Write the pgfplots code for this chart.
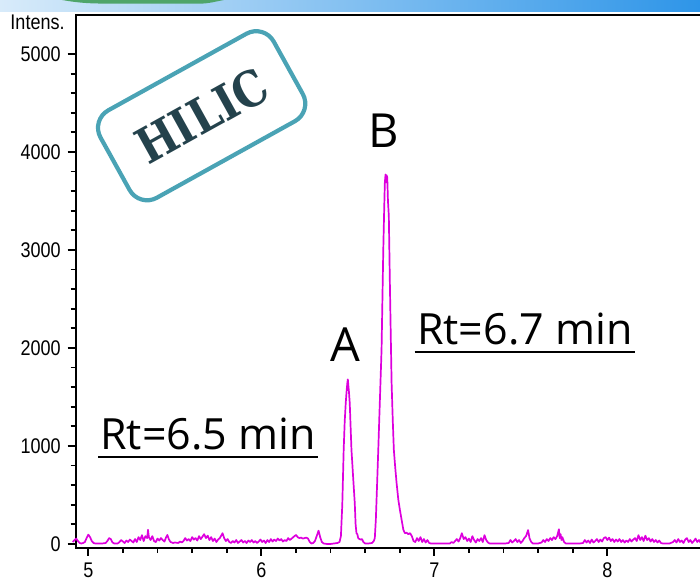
\documentclass[border=0pt]{standalone}
\usepackage{fontspec}
\usepackage{pgfplots}
\pgfplotsset{compat=1.18}
\setmainfont{Open Sans}
\newfontfamily\tickfont[FakeStretch=0.85]{Liberation Sans}
\newfontfamily\hilicfont[FakeStretch=0.86]{DejaVu Serif}
\definecolor{trace}{HTML}{DD00DD}
\definecolor{hilicTeal}{HTML}{4AA3B5}
\definecolor{hilicDark}{HTML}{24424C}
\definecolor{stripL}{HTML}{D8EBFA}
\definecolor{stripR}{HTML}{2E95E8}
\definecolor{stripG}{HTML}{4FA56A}

\begin{document}
\begin{tikzpicture}
% slide header strip
\fill[left color=stripL, right color=stripR] (0pt,285.2pt) rectangle (350pt,291pt);
\fill[stripG] (31pt,291pt) to[out=-10,in=180] (55pt,289.2pt) -- (100pt,289.2pt) to[out=0,in=-170] (112pt,291pt) -- cycle;

\begin{axis}[
    at={(37.85pt,17.15pt)}, anchor=south west,
    scale only axis,
    width=319.65pt, height=266.2pt,
    xmin=4.927, xmax=8.6225,
    ymin=-38, ymax=5395,
    xtick={5,6,7,8}, minor x tick num=4,
    ytick={0,1000,2000,3000,4000,5000}, minor y tick num=4,
    xtick pos=left, ytick pos=left,
    tick align=outside,
    major tick length=4pt, minor tick length=2.5pt,
    every tick/.style={black, line width=0.9pt},
    axis line style={line width=1pt},
    scaled y ticks=false,
    /pgf/number format/1000 sep={},
    /pgf/number format/assume math mode=true,
    tick label style={font=\tickfont\fontsize{10.6}{12}\selectfont},
    clip=false,
]
\addplot[trace, line width=0.85pt, line join=round] coordinates {
(4.910,20) (4.920,40) (4.930,55) (4.940,30) (4.950,10) (4.960,5) (4.970,10) (4.980,20) (4.990,60)
(5.000,95) (5.010,70) (5.020,30) (5.030,10) (5.040,5) (5.060,5) (5.080,5) (5.100,10) (5.110,30)
(5.120,60) (5.130,50) (5.140,15) (5.150,5) (5.170,5) (5.180,20) (5.190,40) (5.200,25) (5.210,10)
(5.220,35) (5.230,20) (5.240,45) (5.250,30) (5.260,15) (5.270,50) (5.280,20) (5.290,70) (5.300,40)
(5.310,90) (5.320,30) (5.330,80) (5.340,60) (5.345,144) (5.350,70) (5.360,40) (5.370,80) (5.380,30)
(5.390,20) (5.400,55) (5.410,35) (5.420,60) (5.430,40) (5.440,25) (5.450,70) (5.457,92) (5.465,50)
(5.475,20) (5.490,10) (5.500,15) (5.520,10) (5.530,25) (5.540,15) (5.550,30) (5.560,60) (5.570,35)
(5.580,50) (5.590,30) (5.600,70) (5.610,45) (5.620,60) (5.630,35) (5.640,80) (5.650,50) (5.660,75)
(5.669,100) (5.680,60) (5.690,85) (5.700,40) (5.710,70) (5.720,30) (5.730,55) (5.740,20) (5.750,45)
(5.760,60) (5.776,110) (5.785,60) (5.795,30) (5.805,50) (5.815,20) (5.825,10) (5.835,30) (5.845,15)
(5.855,40) (5.865,10) (5.875,25) (5.885,40) (5.895,15) (5.905,30) (5.915,10) (5.925,35) (5.935,20)
(5.945,40) (5.955,15) (5.965,30) (5.975,10) (5.985,25) (5.995,45) (6.005,20) (6.015,35) (6.025,10)
(6.035,40) (6.045,20) (6.055,50) (6.065,25) (6.075,45) (6.085,30) (6.095,55) (6.105,35) (6.115,50)
(6.125,25) (6.135,40) (6.145,30) (6.155,60) (6.165,40) (6.175,55) (6.185,70) (6.195,85) (6.201,92)
(6.210,70) (6.220,60) (6.230,65) (6.240,55) (6.250,60) (6.260,65) (6.270,55) (6.280,20) (6.290,5)
(6.300,10) (6.310,30) (6.320,80) (6.331,136) (6.340,70) (6.350,20) (6.360,5) (6.380,0) (6.400,0)
(6.420,5) (6.440,10) (6.452,20)
(6.460,80) (6.468,400) (6.476,960) (6.482,1250) (6.488,1440) (6.493,1560) (6.497,1640) (6.500,1680)
(6.503,1620) (6.507,1540) (6.511,1440) (6.516,1200) (6.521,960) (6.526,820) (6.530,700) (6.535,560)
(6.540,420) (6.545,200) (6.550,110) (6.555,100) (6.560,60) (6.567,50) (6.575,45) (6.582,50) (6.590,20)
(6.600,5) (6.620,5) (6.640,10) (6.650,30)
(6.656,60) (6.662,250) (6.668,550) (6.676,960) (6.685,1450) (6.695,1984) (6.700,2500) (6.705,3006)
(6.710,3400) (6.714,3688) (6.718,3770) (6.721,3690) (6.724,3763) (6.728,3740) (6.732,3500) (6.737,3347)
(6.743,2666) (6.748,2150) (6.753,1643) (6.760,1250) (6.766,961) (6.774,780) (6.782,620) (6.792,450)
(6.801,348) (6.810,256) (6.821,145) (6.830,110) (6.840,115) (6.850,100) (6.860,110) (6.870,80)
(6.880,30) (6.890,20) (6.900,60) (6.910,30) (6.920,70) (6.930,20) (6.940,50) (6.950,15) (6.960,40)
(6.970,10) (6.980,5) (7.000,5) (7.030,5) (7.060,5) (7.090,5) (7.100,20) (7.110,10) (7.120,30)
(7.130,50) (7.140,25) (7.150,60) (7.159,110) (7.170,50) (7.180,70) (7.190,30) (7.200,55) (7.210,20)
(7.220,80) (7.230,40) (7.240,15) (7.250,50) (7.260,30) (7.270,60) (7.280,20) (7.290,90) (7.300,40)
(7.310,15) (7.320,5) (7.350,5) (7.380,5) (7.410,5) (7.430,10) (7.440,40) (7.450,15) (7.460,30)
(7.470,50) (7.480,20) (7.490,40) (7.500,10) (7.510,30) (7.520,60) (7.530,80) (7.542,142) (7.550,60)
(7.560,20) (7.570,5) (7.600,5) (7.620,15) (7.630,40) (7.640,20) (7.650,50) (7.660,30) (7.670,60)
(7.680,40) (7.690,70) (7.700,50) (7.710,80) (7.720,150) (7.725,60) (7.730,100) (7.735,40) (7.740,70)
(7.750,20) (7.760,5) (7.800,5) (7.840,5) (7.860,10) (7.870,40) (7.880,15) (7.890,35) (7.900,10)
(7.910,45) (7.920,15) (7.930,30) (7.940,50) (7.950,20) (7.960,45) (7.970,25) (7.980,60) (7.990,70)
(8.000,40) (8.010,65) (8.020,30) (8.030,50) (8.040,20) (8.050,45) (8.060,25) (8.070,50) (8.080,20)
(8.090,40) (8.100,15) (8.110,35) (8.120,20) (8.130,50) (8.140,25) (8.150,45) (8.160,60) (8.170,30)
(8.180,90) (8.190,40) (8.200,70) (8.210,30) (8.220,85) (8.230,40) (8.240,60) (8.250,25) (8.260,50)
(8.270,20) (8.280,40) (8.290,15) (8.300,35) (8.310,10) (8.320,5) (8.340,5) (8.360,5) (8.380,20)
(8.390,40) (8.400,15) (8.410,50) (8.420,20) (8.430,35) (8.440,10) (8.450,45) (8.460,60) (8.470,20)
(8.480,40) (8.490,10) (8.500,30) (8.510,55) (8.520,20) (8.530,40) (8.540,10) (8.550,30) (8.560,20)
};

% annotations
\node[anchor=east, inner sep=0pt, font=\tickfont\fontsize{10.6}{12}\selectfont] at (axis cs:4.865,5327) {Intens.};
\node[anchor=base, inner sep=0pt, font=\fontsize{23.5}{26}\selectfont] at (axis cs:6.4838,1860) {A};
\node[anchor=base, inner sep=0pt, font=\fontsize{23.5}{26}\selectfont] at (axis cs:6.7064,4051) {B};
\node[anchor=base west, inner xsep=0pt, inner ysep=0pt, font=\fontsize{21.5}{24}\selectfont] (r1) at (axis cs:5.0676,959) {Rt=6.5 min};
\node[anchor=base west, inner xsep=0pt, inner ysep=0pt, font=\fontsize{21.5}{24}\selectfont] (r2) at (axis cs:6.898,2031) {Rt=6.7 min};
\draw[line width=1pt] ([xshift=-1pt,yshift=-3.35pt]r1.base west) -- ([xshift=1pt,yshift=-3.35pt]r1.base east);
\draw[line width=1pt] ([xshift=-1pt,yshift=-3.35pt]r2.base west) -- ([xshift=1pt,yshift=-3.35pt]r2.base east);
\node[draw=hilicTeal, line width=2.1pt, rounded corners=10pt, rotate=29,
      minimum width=99pt, minimum height=50pt, text=hilicDark,
      font=\hilicfont\bfseries\fontsize{24.5}{27}\selectfont] at (axis cs:5.655,4370) {HILIC};
\end{axis}
\pgfresetboundingbox
\useasboundingbox (0pt,0pt) rectangle (350pt,291pt);
\end{tikzpicture}
\end{document}
